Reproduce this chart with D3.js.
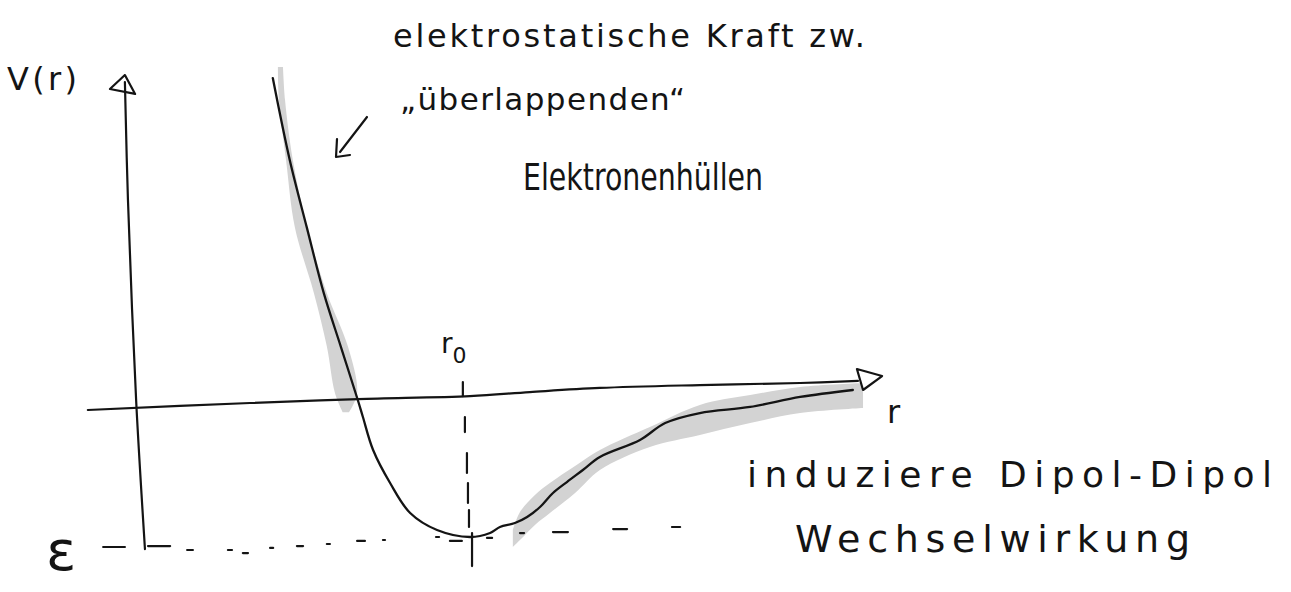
<!DOCTYPE html>
<html>
<head>
<meta charset="utf-8">
<script src="https://cdn.jsdelivr.net/npm/d3@7"></script>
<style>
  html, body { margin: 0; padding: 0; background: #fff; }
  svg { display: block; }
  text { font-family: "DejaVu Sans", sans-serif; fill: #141414; }
</style>
</head>
<body>
<script>
// Lennard-Jones type pair potential V(r), sketched by hand.
// Units: r in multiples of the equilibrium distance r0, V in multiples of the well depth ε.

// potential curve V(r)
const curveR = [0.42, 0.47, 0.52, 0.57, 0.62, 0.67, 0.685, 0.715, 0.765, 0.824, 0.903, 1.0,
                1.059, 1.088, 1.132, 1.168, 1.206, 1.244, 1.285, 1.332, 1.382, 1.5, 1.574, 1.676, 1.824, 1.971, 2.126];
const curveV = [2.35, 1.75, 1.26, 0.78, 0.39, 0.0, -0.124, -0.365, -0.606, -0.825, -0.949, -1.0,
                -0.971, -0.927, -0.898, -0.854, -0.781, -0.679, -0.599, -0.511, -0.416, -0.292, -0.168, -0.095, -0.051, 0.022, 0.073];

// shaded band along the repulsive branch (rows: V, r left, r right)
const repV  = [2.43, 2.19, 1.75, 1.26, 0.78, 0.39, 0.05, -0.09];
const repR0 = [0.435, 0.438, 0.459, 0.485, 0.541, 0.579, 0.603, 0.626];
const repR1 = [0.450, 0.456, 0.479, 0.521, 0.579, 0.641, 0.668, 0.644];

// shaded band along the attractive branch (rows: r, V upper, V lower)
const attR  = [1.126, 1.147, 1.191, 1.235, 1.309, 1.382, 1.529, 1.676, 1.824, 1.971, 2.156];
const attV1 = [-0.949, -0.818, -0.693, -0.606, -0.482, -0.365, -0.197, -0.036, 0.036, 0.095, 0.124];
const attV0 = [-1.073, -1.022, -0.912, -0.825, -0.679, -0.511, -0.343, -0.255, -0.168, -0.095, -0.058];

// hand-drawn r axis
const axisR = [-0.124, 0.353, 0.671, 1.0, 1.176, 1.382, 1.676, 1.971, 2.141];
const axisV = [-0.073, -0.022, 0.007, 0.029, 0.058, 0.088, 0.109, 0.124, 0.139];
// open arrow head of the r axis: tip, upper back, lower back
const arrowR = [2.212, 2.138, 2.156];
const arrowV = [0.175, 0.226, 0.073];

// hand-drawn V axis
const vAxisR = [-0.015, -0.006, 0.018, 0.044];
const vAxisV = [2.321, 1.46, 0.0, -1.088];
const vArrowR = [-0.015, -0.059, 0.015];
const vArrowV = [2.372, 2.27, 2.234];

// dashed guide at the well depth ε (r start, r end, V)
const epsStart = [-0.079, 0.053, 0.168, 0.288, 0.332, 0.412, 0.491, 0.579, 0.668, 0.744, 0.900, 0.941, 1.050, 1.147, 1.244, 1.421, 1.594];
const epsEnd   = [-0.015, 0.118, 0.185, 0.300, 0.347, 0.421, 0.509, 0.588, 0.691, 0.750, 0.909, 0.976, 1.065, 1.159, 1.288, 1.462, 1.618];
const epsLevel = [-1.073, -1.066, -1.095, -1.095, -1.117, -1.080, -1.066, -1.051, -1.029, -1.022, -1.0, -1.029, -1.007, -0.971, -0.964, -0.942, -0.927];

// dashed guide at r0 (r, V start, V end); last piece is the solid tick below ε
const r0Pos   = [0.979, 0.985, 0.991, 0.994, 0.997, 1.006];
const r0Start = [0.131, -0.124, -0.387, -0.606, -0.803, -0.971];
const r0End   = [0.029, -0.234, -0.533, -0.752, -0.927, -1.212];

// labels
const labelTexts = {
  vr: "V(r)",
  top1: "elektrostatische Kraft zw.",
  top2: "„überlappenden“",
  top3: "Elektronenhüllen",
  bot1: "induziere Dipol-Dipol",
  bot2: "Wechselwirkung",
  eps: "ε",
  r: "r",
  r0: "r",
  r0sub: "0"
};

const W = 1291, H = 592;
const ink = "#141414", shade = "#d3d3d3";

const svg = d3.select("body").append("svg").attr("width", W).attr("height", H);
svg.append("rect").attr("width", W).attr("height", H).attr("fill", "#fff");

const x = d3.scaleLinear().domain([0, 1]).range([130, 470]);
const y = d3.scaleLinear().domain([-1, 0]).range([537, 400]);

const zip2 = (a, b) => a.map((v, i) => [v, b[i]]);
const pathOf = (curve) => d3.line().x(d => x(d[0])).y(d => y(d[1])).curve(curve);

// shaded bands
const repRows = repV.map((v, i) => ({ v, r0: repR0[i], r1: repR1[i] }));
svg.append("path")
  .attr("d", d3.area().curve(d3.curveCatmullRom)
    .y(d => y(d.v)).x0(d => x(d.r0)).x1(d => x(d.r1))(repRows))
  .attr("fill", shade);

const attRows = attR.map((r, i) => ({ r, v1: attV1[i], v0: attV0[i] }));
svg.append("path")
  .attr("d", d3.area().curve(d3.curveCatmullRom)
    .x(d => x(d.r)).y0(d => y(d.v0)).y1(d => y(d.v1))(attRows))
  .attr("fill", shade);

// axes
svg.append("path")
  .attr("d", pathOf(d3.curveCatmullRom)(zip2(axisR, axisV)))
  .attr("fill", "none").attr("stroke", ink).attr("stroke-width", 2.2).attr("stroke-linecap", "round");
svg.append("path")
  .attr("d", pathOf(d3.curveLinearClosed)(zip2(arrowR, arrowV)))
  .attr("fill", "#fff").attr("stroke", ink).attr("stroke-width", 2.2).attr("stroke-linejoin", "round");

svg.append("path")
  .attr("d", pathOf(d3.curveCatmullRom)(zip2(vAxisR, vAxisV)))
  .attr("fill", "none").attr("stroke", ink).attr("stroke-width", 2.2).attr("stroke-linecap", "round");
svg.append("path")
  .attr("d", pathOf(d3.curveLinearClosed)(zip2(vArrowR, vArrowV)))
  .attr("fill", "none").attr("stroke", ink).attr("stroke-width", 2.2).attr("stroke-linejoin", "round");

// ε guide
svg.append("g").selectAll("line")
  .data(epsStart.map((s, i) => ({ s, e: epsEnd[i], v: epsLevel[i] })))
  .join("line")
  .attr("x1", d => x(d.s)).attr("x2", d => x(d.e))
  .attr("y1", d => y(d.v)).attr("y2", d => y(d.v))
  .attr("stroke", ink).attr("stroke-width", 2.2).attr("stroke-linecap", "round");

// r0 guide
svg.append("g").selectAll("line")
  .data(r0Pos.map((r, i) => ({ r, a: r0Start[i], b: r0End[i] })))
  .join("line")
  .attr("x1", d => x(d.r)).attr("x2", d => x(d.r))
  .attr("y1", d => y(d.a)).attr("y2", d => y(d.b))
  .attr("stroke", ink).attr("stroke-width", 2.2).attr("stroke-linecap", "round");

// potential curve
svg.append("path")
  .attr("d", pathOf(d3.curveCatmullRom)(zip2(curveR, curveV)))
  .attr("fill", "none").attr("stroke", ink).attr("stroke-width", 2.3)
  .attr("stroke-linecap", "round").attr("stroke-linejoin", "round");

// small pointer from the upper note to the repulsive branch
svg.append("path")
  .attr("d", "M367,117 L340,152 M337,139 L336,157 L350,155")
  .attr("fill", "none").attr("stroke", ink).attr("stroke-width", 2.2)
  .attr("stroke-linecap", "round").attr("stroke-linejoin", "round");

// text; stretched or squeezed to the written width
function label(txt, px, py, size, width) {
  const t = svg.append("text").attr("x", px).attr("y", py)
    .attr("font-size", size).text(txt);
  if (width) {
    const natural = t.node().getComputedTextLength();
    t.attr("textLength", width)
     .attr("lengthAdjust", natural < width ? "spacing" : "spacingAndGlyphs");
  }
  return t;
}
label(labelTexts.vr, 7, 90, 32, 70);
label(labelTexts.top1, 393, 47, 32, 472);
label(labelTexts.top2, 400, 110, 31, 285);
label(labelTexts.top3, 523, 190, 38, 240);
label(labelTexts.bot1, 747, 487, 36, 525);
label(labelTexts.bot2, 795, 552, 38, 395);
label(labelTexts.eps, 46, 570, 56);
label(labelTexts.r, 887, 423, 32);
const r0t = svg.append("text").attr("x", 441).attr("y", 353).attr("font-size", 28);
r0t.append("tspan").text(labelTexts.r0);
r0t.append("tspan").attr("dy", 10).attr("font-size", 22).text(labelTexts.r0sub);
</script>
</body>
</html>
